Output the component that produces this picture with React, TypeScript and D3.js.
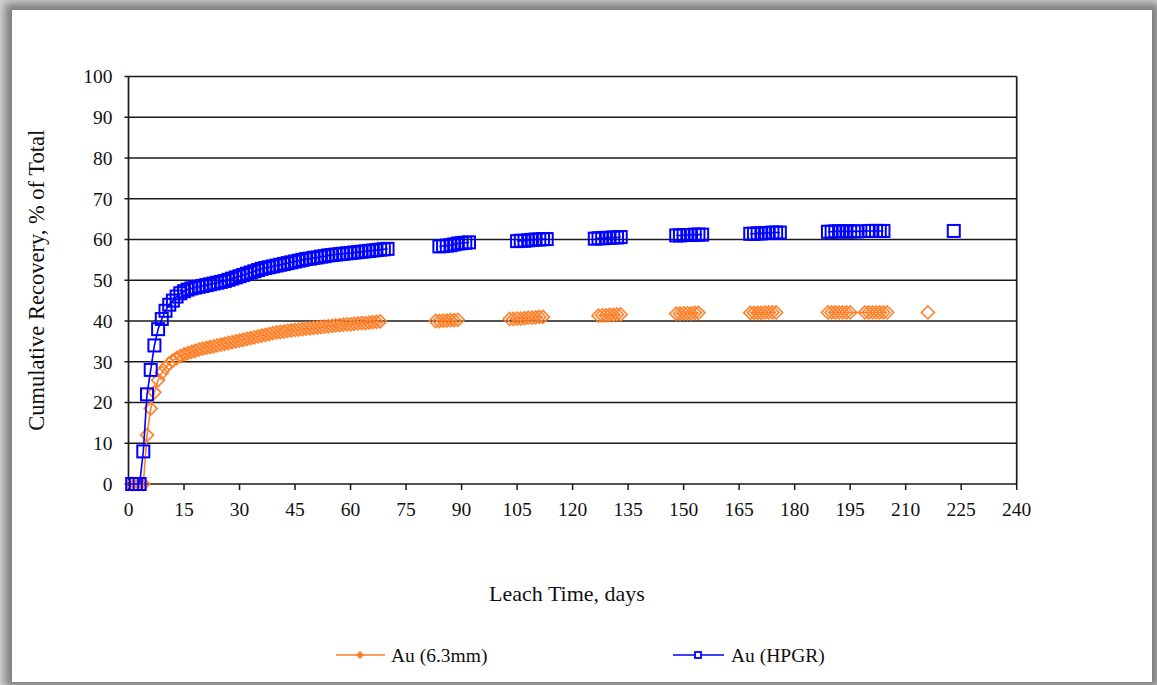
import React from "react";
import * as d3 from "d3";

// Au (6.3mm) crush: leach day and cumulative recovery, % of total
const fineDays = [
  1, 2, 3, 4, 5, 6, 7, 8, 9, 10, 11, 12, 13, 14, 15, 16, 17, 18, 19, 20,
  21, 22, 23, 24, 25, 26, 27, 28, 29, 30, 31, 32, 33, 34, 35, 36, 37, 38, 39, 40,
  41, 42, 43, 44, 45, 46, 47, 48, 49, 50, 51, 52, 53, 54, 55, 56, 57, 58, 59, 60,
  61, 62, 63, 64, 65, 66, 67, 68,
  83, 84, 85, 86, 87, 88, 89,
  103, 104, 105, 106, 107, 108, 109, 110, 111, 112,
  127, 128, 129, 130, 131, 132, 133,
  148, 149, 150, 151, 152, 153, 154,
  168, 169, 170, 171, 172, 173, 174, 175,
  189, 190, 191, 192, 193, 194, 195,
  199, 200, 201, 202, 203, 204, 205,
  216,
];
const fineRecovery = [
  0, 0, 0, 0, 12, 18.5, 22.5, 25.5, 27.3, 28.6, 29.6, 30.3, 30.9, 31.4, 31.8, 32.1, 32.4, 32.7, 33, 33.2,
  33.4, 33.6, 33.8, 34, 34.2, 34.4, 34.6, 34.8, 35, 35.2, 35.4, 35.6, 35.8, 36, 36.2, 36.4, 36.6, 36.8, 37, 37.2,
  37.3, 37.4, 37.6, 37.7, 37.8, 37.9, 38, 38.1, 38.2, 38.3, 38.4, 38.5, 38.6, 38.7, 38.8, 38.9, 39, 39.1, 39.2, 39.2,
  39.3, 39.4, 39.5, 39.5, 39.6, 39.7, 39.8, 39.9,
  40, 40, 40.1, 40.1, 40.2, 40.2, 40.3,
  40.5, 40.5, 40.6, 40.6, 40.7, 40.8, 40.8, 40.9, 41, 41,
  41.3, 41.4, 41.4, 41.5, 41.5, 41.6, 41.6,
  41.8, 41.8, 41.9, 41.9, 41.9, 42, 42,
  42, 42, 42, 42, 42.1, 42.1, 42.1, 42.1,
  42.1, 42.1, 42.1, 42.1, 42.1, 42.1, 42.1,
  42.1, 42.1, 42.1, 42.1, 42.1, 42.1, 42.1,
  42.1,
];

// Au (HPGR) product: leach day and cumulative recovery, % of total
const hpgrDays = [
  1, 2, 3, 4, 5, 6, 7, 8, 9, 10, 11, 12, 13, 14, 15, 16, 17, 18, 19, 20,
  21, 22, 23, 24, 25, 26, 27, 28, 29, 30, 31, 32, 33, 34, 35, 36, 37, 38, 39, 40,
  41, 42, 43, 44, 45, 46, 47, 48, 49, 50, 51, 52, 53, 54, 55, 56, 57, 58, 59, 60,
  61, 62, 63, 64, 65, 66, 67, 68, 69, 70,
  84, 85, 86, 87, 88, 89, 90, 91, 92,
  105, 106, 107, 108, 109, 110, 111, 112, 113,
  126, 127, 128, 129, 130, 131, 132, 133,
  148, 149, 150, 151, 152, 153, 154, 155,
  168, 169, 170, 171, 172, 173, 174, 175, 176,
  189, 190, 191, 192, 193, 194, 195, 196, 197,
  200, 201, 202, 203, 204,
  223,
];
const hpgrRecovery = [
  0, 0, 0, 8, 22, 28, 34, 38, 40.5, 42.5, 44, 45, 46, 46.8, 47.3, 47.7, 48, 48.2, 48.4, 48.6,
  48.8, 49, 49.2, 49.4, 49.6, 49.8, 50.1, 50.4, 50.7, 51, 51.3, 51.6, 51.9, 52.2, 52.5, 52.8, 53, 53.2, 53.4, 53.6,
  53.8, 54, 54.2, 54.4, 54.6, 54.8, 55, 55.2, 55.3, 55.5, 55.6, 55.8, 55.9, 56.1, 56.2, 56.3, 56.4, 56.5, 56.6, 56.7,
  56.8, 56.9, 57, 57.1, 57.2, 57.3, 57.4, 57.5, 57.6, 57.7,
  58.3, 58.4, 58.5, 58.6, 58.8, 59, 59.1, 59.2, 59.3,
  59.6, 59.7, 59.7, 59.8, 59.9, 60, 60, 60.1, 60.1,
  60.2, 60.3, 60.3, 60.4, 60.4, 60.5, 60.5, 60.6,
  61, 61, 61.1, 61.1, 61.1, 61.2, 61.2, 61.2,
  61.4, 61.4, 61.5, 61.5, 61.6, 61.6, 61.7, 61.7, 61.7,
  61.9, 61.9, 62, 62, 62, 62, 62, 62, 62,
  62.1, 62.1, 62.1, 62.1, 62.1,
  62.1,
];

const xTicks = [0, 15, 30, 45, 60, 75, 90, 105, 120, 135, 150, 165, 180, 195, 210, 225, 240];
const yTicks = [0, 10, 20, 30, 40, 50, 60, 70, 80, 90, 100];

const seriesNames = ["Au (6.3mm)", "Au (HPGR)"];
const ORANGE = "#ff7f27";
const BLUE = "#0000ff";
const FONT = "'Liberation Serif', 'Times New Roman', serif";
const INK = "#1a1a1a";

const W = 1157;
const H = 685;
const plot = { left: 128.5, right: 1016.7, top: 76.5, bottom: 484 };

type Pt = { d: number; v: number };

// split a series wherever sampling pauses for several days
function segments(days: number[], vals: number[]): Pt[][] {
  const out: Pt[][] = [];
  let cur: Pt[] = [];
  days.forEach((d, i) => {
    if (cur.length && d - cur[cur.length - 1].d > 5) {
      out.push(cur);
      cur = [];
    }
    cur.push({ d, v: vals[i] });
  });
  if (cur.length) out.push(cur);
  return out;
}

export default function App() {
  const x = d3.scaleLinear().domain([0, 240]).range([plot.left, plot.right]);
  const y = d3.scaleLinear().domain([0, 100]).range([plot.bottom, plot.top]);
  const line = d3
    .line<Pt>()
    .x((p) => x(p.d))
    .y((p) => y(p.v));

  const fineSegs = segments(fineDays, fineRecovery);
  const hpgrSegs = segments(hpgrDays, hpgrRecovery);

  const diamond = (cx: number, cy: number, r: number) =>
    `M${cx},${cy - r}L${cx + r},${cy}L${cx},${cy + r}L${cx - r},${cy}Z`;

  return (
    <svg
      width={W}
      height={H}
      style={{ position: "absolute", left: 0, top: 0, display: "block" }}
      fontFamily={FONT}
    >
      <defs>
        <filter id="cardShadow" x="-5%" y="-5%" width="110%" height="110%">
          <feGaussianBlur stdDeviation="4" />
        </filter>
      </defs>
      {/* card with soft shadow */}
      <rect x={0} y={0} width={W} height={H} fill="#d2d2d2" />
      <rect x={5} y={3} width={W - 3} height={H - 1} fill="#7e7e7e" filter="url(#cardShadow)" />
      <rect x={12} y={10} width={1140} height={672} fill="#ffffff" />

      {/* horizontal gridlines */}
      {yTicks.map((t) => (
        <line
          key={`g${t}`}
          x1={plot.left - 4}
          x2={plot.right}
          y1={y(t)}
          y2={y(t)}
          stroke={INK}
          strokeWidth={1.6}
        />
      ))}
      {/* plot frame */}
      <line x1={plot.left} x2={plot.left} y1={plot.top} y2={plot.bottom} stroke={INK} strokeWidth={1.7} />
      <line x1={plot.right} x2={plot.right} y1={plot.top} y2={plot.bottom} stroke={INK} strokeWidth={1.7} />

      {/* x ticks and labels */}
      {xTicks.map((t) => (
        <g key={`x${t}`}>
          <line x1={x(t)} x2={x(t)} y1={plot.bottom} y2={plot.bottom + 6} stroke={INK} strokeWidth={1.5} />
          <text x={x(t)} y={plot.bottom + 32} textAnchor="middle" fontSize={19.5} fill="#111">
            {t}
          </text>
        </g>
      ))}
      {/* y labels */}
      {yTicks.map((t) => (
        <text
          key={`y${t}`}
          x={plot.left - 16}
          y={y(t)}
          dy="0.35em"
          textAnchor="end"
          fontSize={19.5}
          fill="#111"
        >
          {t}
        </text>
      ))}

      {/* axis titles */}
      <text x={567} y={601} textAnchor="middle" fontSize={22} fill="#111">
        Leach Time, days
      </text>
      <text
        transform={`translate(44,${(plot.top + plot.bottom) / 2}) rotate(-90)`}
        textAnchor="middle"
        fontSize={22.5}
        fill="#111"
      >
        Cumulative Recovery, % of Total
      </text>

      {/* Au (6.3mm) */}
      <g>
        {fineSegs.map((s, i) => (
          <path key={`fl${i}`} d={line(s) || ""} fill="none" stroke={ORANGE} strokeWidth={1.6} />
        ))}
        {fineDays.map((d, i) => (
          <path
            key={`fm${i}`}
            d={diamond(x(d), y(fineRecovery[i]), 6.5)}
            fill="none"
            stroke={ORANGE}
            strokeWidth={1.6}
          />
        ))}
      </g>

      {/* Au (HPGR) */}
      <g>
        {hpgrSegs.map((s, i) => (
          <path key={`hl${i}`} d={line(s) || ""} fill="none" stroke={BLUE} strokeWidth={1.6} />
        ))}
        {hpgrDays.map((d, i) => (
          <rect
            key={`hm${i}`}
            x={x(d) - 6}
            y={y(hpgrRecovery[i]) - 6}
            width={12}
            height={12}
            fill="none"
            stroke={BLUE}
            strokeWidth={2}
          />
        ))}
      </g>

      {/* legend */}
      <g>
        <line x1={336} x2={385} y1={655} y2={655} stroke={ORANGE} strokeWidth={1.6} />
        <path d={diamond(360, 655, 3.5)} fill={ORANGE} stroke={ORANGE} strokeWidth={1} />
        <text x={391} y={662} fontSize={19.5} fill="#111">
          {seriesNames[0]}
        </text>
        <line x1={673} x2={724} y1={655} y2={655} stroke={BLUE} strokeWidth={1.6} />
        <rect x={695} y={652} width={6} height={6} fill="#fff" stroke={BLUE} strokeWidth={1.8} />
        <text x={731} y={662} fontSize={19.5} fill="#111">
          {seriesNames[1]}
        </text>
      </g>
    </svg>
  );
}
